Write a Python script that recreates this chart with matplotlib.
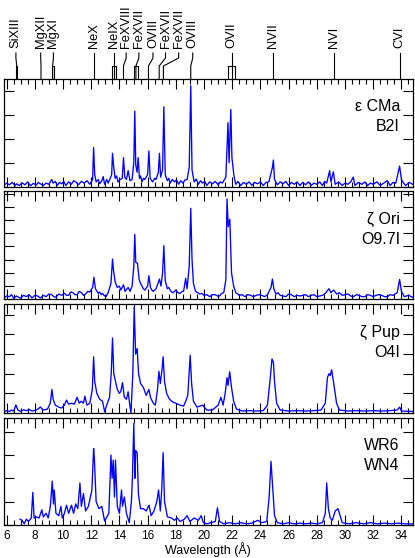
import matplotlib
matplotlib.use("Agg")
import matplotlib.pyplot as plt
from matplotlib.ticker import MultipleLocator

plt.rcParams['font.family'] = ['Liberation Sans', 'DejaVu Sans']

# spectra (wavelength in A, flux in arbitrary units)
wl_cma = [5.8, 6.0, 6.2, 6.4, 6.6, 6.7, 6.9, 7.1, 7.3, 7.5, 7.7, 7.9, 8.1, 8.25, 8.4, 8.6, 8.8,
          9.0, 9.2, 9.3, 9.45, 9.6, 9.75, 9.9, 10.05, 10.2, 10.4, 10.6, 10.75, 10.9, 11.1, 11.3,
          11.5, 11.7, 11.9, 12.1, 12.17, 12.25, 12.35, 12.5, 12.6, 12.75, 12.85, 12.95, 13.1,
          13.2, 13.35, 13.45, 13.51, 13.6, 13.7, 13.8, 13.9, 14.05, 14.2, 14.29, 14.38, 14.5,
          14.62, 14.75, 14.9, 15.02, 15.09, 15.16, 15.25, 15.33, 15.42, 15.5, 15.6, 15.7, 15.8,
          16.0, 16.09, 16.18, 16.35, 16.5, 16.6, 16.76, 16.84, 16.92, 17.06, 17.15, 17.25, 17.4,
          17.5, 17.6, 17.75, 17.9, 18.05, 18.2, 18.35, 18.5, 18.65, 18.8, 18.95, 19.06, 19.15,
          19.3, 19.45, 19.6, 19.75, 19.9, 20.05, 20.2, 20.4, 20.6, 20.8, 21.0, 21.15, 21.3, 21.55,
          21.7, 21.78, 21.9, 21.98, 22.13, 22.25, 22.4, 22.6, 22.8, 23.0, 23.2, 23.4, 23.6, 23.8,
          24.0, 24.2, 24.4, 24.6, 24.85, 24.92, 25.0, 25.2, 25.4, 25.6, 25.8, 26.0, 26.2, 26.4,
          26.6, 26.8, 27.0, 27.2, 27.4, 27.6, 27.8, 28.0, 28.2, 28.4, 28.55, 28.7, 28.91, 29.0,
          29.17, 29.3, 29.55, 29.8, 30.0, 30.2, 30.4, 30.59, 30.7, 30.95, 31.2, 31.4, 31.6, 31.8,
          32.0, 32.25, 32.5, 32.75, 33.0, 33.2, 33.4, 33.6, 33.87, 34.0, 34.15, 34.3, 34.55, 34.8]
fx_cma = [0.05, 0.15, 0.08, 0.18, 0.04, 0.12, 0.05, 0.16, 0.08, 0.2, 0.04, 0.14, 0.07, 0.18, 0.12,
          0.05, 0.15, 0.1, 0.3, 0.15, 0.22, 0.06, 0.18, 0.12, 0.22, 0.05, 0.2, 0.1, 0.25, 0.2,
          0.08, 0.22, 0.15, 0.25, 0.1, 0.3, 1.63, 0.5, 0.2, 0.3, 0.12, 0.25, 0.42, 0.1, 0.3,
          0.15, 0.35, 0.5, 1.39, 0.8, 0.35, 0.45, 0.2, 0.3, 0.35, 1.21, 0.4, 0.3, 0.67, 0.25,
          0.3, 1.0, 3.15, 0.9, 0.6, 1.21, 0.35, 0.45, 0.2, 0.35, 0.3, 0.5, 1.49, 0.35, 0.2,
          0.35, 0.3, 0.6, 1.39, 0.4, 0.7, 3.33, 0.5, 0.25, 0.35, 0.15, 0.3, 0.2, 0.28, 0.1,
          0.25, 0.15, 0.28, 0.3, 0.8, 4.21, 0.7, 0.2, 0.32, 0.1, 0.25, 0.15, 0.22, 0.05, 0.2,
          0.12, 0.22, 0.08, 0.2, 0.15, 0.4, 2.67, 1.0, 3.22, 1.2, 0.42, 0.1, 0.22, 0.05, 0.18,
          0.1, 0.2, 0.06, 0.18, 0.12, 0.2, 0.05, 0.18, 0.2, 0.8, 1.11, 0.3, 0.08, 0.2, 0.12,
          0.22, 0.05, 0.18, 0.1, 0.2, 0.05, 0.18, 0.08, 0.2, 0.05, 0.15, 0.1, 0.2, 0.05, 0.22,
          0.15, 0.67, 0.2, 0.62, 0.1, 0.2, 0.05, 0.15, 0.1, 0.2, 0.4, 0.05, 0.18, 0.1, 0.2, 0.05,
          0.15, 0.1, 0.2, 0.05, 0.15, 0.25, 0.05, 0.18, 0.15, 0.86, 0.3, 0.15, 0.05, 0.18, 0.1]

wl_ori = [5.8, 6.0, 6.2, 6.35, 6.5, 6.7, 6.85, 7.0, 7.2, 7.4, 7.6, 7.8, 8.0, 8.2, 8.4, 8.6, 8.8,
          9.0, 9.2, 9.35, 9.5, 9.7, 9.9, 10.1, 10.25, 10.4, 10.55, 10.7, 10.85, 11.0, 11.15,
          11.3, 11.45, 11.6, 11.75, 11.9, 12.1, 12.19, 12.3, 12.5, 12.6, 12.7, 12.8, 12.9, 13.05,
          13.2, 13.4, 13.51, 13.58, 13.7, 13.85, 14.0, 14.1, 14.29, 14.4, 14.62, 14.75, 14.9,
          15.02, 15.09, 15.16, 15.28, 15.4, 15.5, 15.6, 15.7, 15.8, 16.0, 16.09, 16.2, 16.3,
          16.4, 16.6, 16.84, 16.95, 17.06, 17.15, 17.25, 17.4, 17.5, 17.6, 17.7, 17.8, 18.0,
          18.15, 18.3, 18.45, 18.55, 18.7, 18.8, 18.95, 19.06, 19.15, 19.25, 19.4, 19.55, 19.7,
          19.85, 20.0, 20.2, 20.4, 20.6, 20.8, 20.95, 21.1, 21.25, 21.4, 21.55, 21.63, 21.72,
          21.83, 21.95, 22.1, 22.25, 22.4, 22.5, 22.7, 22.9, 23.1, 23.3, 23.5, 23.7, 23.9, 24.1,
          24.3, 24.5, 24.75, 24.85, 24.95, 25.1, 25.25, 25.4, 25.6, 25.8, 26.0, 26.2, 26.4, 26.6,
          26.8, 27.0, 27.2, 27.4, 27.6, 27.8, 28.0, 28.2, 28.4, 28.6, 28.86, 29.0, 29.2, 29.4,
          29.6, 29.8, 30.0, 30.2, 30.4, 30.6, 30.8, 31.0, 31.2, 31.4, 31.6, 31.8, 32.0, 32.2,
          32.4, 32.6, 32.8, 33.0, 33.2, 33.4, 33.7, 33.87, 34.0, 34.2, 34.5, 34.8]
fx_ori = [0.1, 0.25, 0.2, 0.35, 0.08, 0.25, 0.15, 0.1, 0.3, 0.2, 0.35, 0.1, 0.3, 0.25, 0.1, 0.3,
          0.2, 0.4, 0.35, 0.2, 0.15, 0.4, 0.3, 0.45, 0.3, 0.3, 0.55, 0.5, 0.35, 0.35, 0.6,
          0.5, 0.3, 0.4, 0.6, 0.55, 0.9, 1.67, 0.8, 0.45, 0.55, 0.35, 0.45, 0.3, 0.2,
          0.5, 1.2, 3.05, 2.2, 1.3, 0.9, 1.0, 0.7, 1.1, 0.6, 0.9, 0.6, 1.0,
          2.5, 4.92, 2.8, 2.73, 1.5, 1.2, 1.0, 0.8, 0.7, 1.0, 1.79, 0.9, 0.7,
          0.6, 0.8, 1.53, 1.0, 2.0, 4.06, 1.4, 0.8, 0.9, 0.7, 0.55, 0.5, 0.7,
          0.5, 0.45, 0.6, 0.6, 1.59, 0.8, 2.5, 6.89, 3.0, 1.2, 0.6, 0.5, 0.4,
          0.45, 0.3, 0.35, 0.2, 0.35, 0.35, 0.25, 0.25, 0.45, 0.5, 1.5, 7.6, 5.5,
          6.06, 2.0, 1.0, 0.5, 0.4, 0.3, 0.35, 0.2, 0.35, 0.3, 0.2, 0.3, 0.35, 0.3,
          0.2, 0.35, 0.9, 1.53, 0.8, 0.4, 0.5, 0.3, 0.25, 0.2, 0.4, 0.35, 0.2, 0.3,
          0.25, 0.3, 0.35, 0.2, 0.3, 0.35, 0.2, 0.25, 0.3, 0.45, 0.8, 0.5, 0.7, 0.4,
          0.5, 0.3, 0.35, 0.4, 0.25, 0.2, 0.35, 0.3, 0.2, 0.2, 0.35, 0.3, 0.2, 0.3,
          0.35, 0.3, 0.2, 0.2, 0.35, 0.3, 0.5, 1.5, 0.6, 0.2, 0.3, 0.15]

wl_pup = [5.8, 6.0, 6.2, 6.35, 6.5, 6.66, 6.8, 7.0, 7.2, 7.4, 7.6, 7.8, 8.1, 8.25, 8.4, 8.6, 8.9,
          9.1, 9.21, 9.3, 9.45, 9.7, 9.9, 10.1, 10.25, 10.4, 10.6, 10.8, 11.0, 11.15, 11.3, 11.45,
          11.55, 11.7, 11.9, 12.08, 12.17, 12.25, 12.4, 12.6, 12.8, 12.95, 13.1, 13.3, 13.42,
          13.51, 13.6, 13.7, 13.85, 14.0, 14.1, 14.22, 14.35, 14.5, 14.62, 14.72, 14.82, 14.95,
          15.05, 15.15, 15.26, 15.36, 15.5, 15.7, 15.9, 16.09, 16.2, 16.4, 16.55, 16.7, 16.8,
          16.9, 17.02, 17.1, 17.2, 17.35, 17.55, 17.8, 18.0, 18.3, 18.55, 18.7, 18.85, 19.02,
          19.12, 19.25, 19.5, 19.7, 19.9, 20.2, 20.6, 21.0, 21.2, 21.35, 21.5, 21.63, 21.7, 21.82,
          21.95, 22.1, 22.3, 22.7, 23.2, 23.7, 24.2, 24.5, 24.7, 24.82, 24.92, 25.0, 25.15, 25.4,
          26.0, 26.6, 27.2, 27.8, 28.3, 28.6, 28.75, 28.86, 28.95, 29.05, 29.2, 29.4, 29.6, 30.2,
          30.8, 31.4, 32.0, 32.6, 33.2, 33.7, 33.87, 34.0, 34.8]
fx_pup = [0.05, 0.12, 0.08, 0.15, 0.1, 0.41, 0.15, 0.08, 0.16, 0.12, 0.18, 0.1, 0.15, 0.22, 0.3,
          0.15, 0.2, 0.5, 1.2, 0.7, 0.4, 0.3, 0.25, 0.4, 0.66, 0.45, 0.5, 0.45, 0.8, 0.5, 0.6,
          0.5, 0.86, 0.4, 0.5, 1.2, 2.86, 1.6, 1.0, 0.7, 0.6, 0.07, 0.4, 0.8, 2.0,
          3.82, 2.0, 1.67, 1.2, 1.0, 1.1, 1.55, 0.8, 0.7, 1.08, 0.5, 0.0, 2.0,
          5.4, 3.0, 3.28, 2.0, 1.5, 1.3, 0.9, 1.2, 0.8, 0.5, 0.4, 1.2, 2.13,
          1.5, 2.2, 2.86, 1.6, 1.0, 0.7, 0.55, 0.5, 0.4, 0.35, 0.6, 0.9, 2.94,
          1.5, 0.6, 0.3, 0.35, 0.4, 0.15, 0.15, 0.4, 0.8, 0.4, 1.0, 1.8, 1.4, 2.1,
          1.3, 0.6, 0.2, 0.1, 0.12, 0.1, 0.12, 0.4, 1.8, 2.75, 2.6, 1.6, 0.5, 0.15,
          0.1, 0.12, 0.1, 0.12, 0.15, 0.5, 1.8, 2.0, 1.9, 2.2, 1.5, 0.5, 0.15, 0.1,
          0.12, 0.1, 0.12, 0.1, 0.12, 0.15, 0.3, 0.1, 0.08]

wl_wr6 = [6.95, 7.1, 7.25, 7.4, 7.55, 7.75, 7.86, 7.95, 8.1, 8.3, 8.5, 8.6, 8.8, 8.95, 9.1, 9.24,
          9.32, 9.38, 9.5, 9.7, 9.85, 9.95, 10.1, 10.25, 10.4, 10.6, 10.75, 10.9, 11.05, 11.2,
          11.3, 11.45, 11.6, 11.8, 12.05, 12.17, 12.22, 12.35, 12.55, 12.75, 12.95, 13.25, 13.4,
          13.48, 13.56, 13.65, 13.72, 13.85, 14.0, 14.15, 14.22, 14.35, 14.5, 14.7, 14.85, 14.92,
          15.02, 15.1, 15.15, 15.26, 15.35, 15.5, 15.7, 15.9, 16.1, 16.25, 16.45, 16.65, 16.78,
          16.9, 17.0, 17.1, 17.2, 17.4, 17.7, 17.9, 18.1, 18.3, 18.6, 18.8, 19.0, 19.3, 19.6,
          19.8, 19.95, 20.2, 20.5, 20.8, 20.95, 21.1, 21.4, 21.8, 22.2, 22.6, 23.0, 23.4, 23.8,
          24.1, 24.45, 24.62, 24.75, 24.85, 25.0, 25.2, 25.6, 26.0, 26.4, 26.8, 27.2, 27.6, 28.0,
          28.4, 28.6, 28.7, 28.82, 28.95, 29.1, 29.3, 29.5, 29.65, 29.8, 30.3, 30.8, 31.3, 31.8,
          32.3, 32.8, 33.3, 33.8, 34.3, 34.8]
fx_wr6 = [0.25, 0.2, 0.05, 0.25, 0.15, 0.3, 1.4, 0.3, 0.35, 0.3, 0.65, 0.35, 0.5, 0.3, 0.8, 1.88,
          0.9, 1.5, 0.5, 0.4, 0.8, 0.3, 0.5, 0.85, 0.5, 0.85, 0.5, 0.9, 0.7, 1.8,
          0.8, 1.35, 0.6, 0.8, 1.5, 3.28, 2.9, 1.0, 0.7, 0.8, 0.17, 0.5, 3.0,
          2.0, 2.78, 1.2, 2.78, 0.8, 0.5, 1.5, 0.8, 1.2, 0.5, 0.1, 1.0, 2.0,
          4.35, 2.0, 3.2, 3.1, 1.3, 0.7, 0.7, 0.6, 0.85, 0.4, 0.6, 1.0, 1.5,
          0.6, 1.5, 3.1, 1.0, 0.35, 0.3, 0.2, 0.3, 0.15, 0.25, 0.4, 0.15, 0.3, 0.2,
          0.4, 0.1, 0.05, 0.1, 0.15, 0.74, 0.15, 0.05, 0.1, 0.05, 0.1, 0.05, 0.08, 0.2,
          0.1, 0.15, 1.2, 2.73, 1.8, 0.4, 0.1, 0.05, 0.1, 0.05, 0.08, 0.05, 0.08, 0.05,
          0.1, 0.5, 1.8, 0.7, 0.3, 0.2, 0.6, 0.7, 0.4, 0.1, 0.05, 0.1, 0.05, 0.1,
          0.05, 0.08, 0.05, 0.08, 0.05, 0.05]

stars = ['\u03b5 CMa', '\u03b6 Ori', '\u03b6 Pup', 'WR6']
types = ['B2I', 'O9.7I', 'O4I', 'WN4']
ytops = [4.5, 8.2, 5.55, 4.6]

# line identifications: name, wavelength of the label, wavelength of the marker, box (or None)
ion_names = ['SiXIII', 'MgXII', 'MgXI', 'NeX', 'NeIX', 'FeXVIII', 'FeXVII', 'OVIII',
             'FeXVII', 'FeXVII', 'OVIII', 'OVII', 'NVII', 'NVI', 'CVI']
ion_label_wl = [6.66, 8.42, 9.32, 12.17, 13.63, 14.48, 15.38, 16.38, 17.27, 18.2, 19.2,
                21.95, 24.9, 29.2, 33.88]
ion_mark_wl = [6.72, 8.44, 9.26, 12.17, 13.63, 14.29, 15.17, 16.06, 16.82, 17.12, 19.06,
               21.95, 24.9, 29.2, 33.88]
ion_boxes = [(6.66, 6.75), None, (9.2, 9.33), None, (13.46, 13.77), None, (15.04, 15.31), None,
             None, None, None, (21.72, 22.2), None, None, None]

W, H = 415, 558
fig = plt.figure(figsize=(W / 100, H / 100), dpi=100)
x0, x1 = 3.5, 413.0
panels = [(78.7, 186.7), (191.0, 299.3), (304.0, 413.0), (417.7, 525.0)]
spectra = [(wl_cma, fx_cma), (wl_ori, fx_ori), (wl_pup, fx_pup), (wl_wr6, fx_wr6)]
xlim = (5.78, 34.82)

for i, (top, bot) in enumerate(panels):
    ax = fig.add_axes([x0 / W, 1 - bot / H, (x1 - x0) / W, (bot - top) / H])
    wl, fx = spectra[i]
    ax.plot(wl, fx, color='#0000ff', lw=0.95)
    ax.set_xlim(*xlim)
    ax.set_ylim(0, ytops[i])
    ax.xaxis.set_major_locator(MultipleLocator(2))
    ax.xaxis.set_minor_locator(MultipleLocator(0.5))
    ax.yaxis.set_major_locator(MultipleLocator(1))
    ax.tick_params(which='both', direction='in', top=True, right=True,
                   labelleft=False, labelbottom=(i == 3), labelsize=8.5, pad=3.5, width=0.8)
    ax.tick_params(which='major', length=7)
    ax.tick_params(which='minor', length=3.5)
    for s in ax.spines.values():
        s.set_linewidth(0.9)
    ax.text(0.968, 0.74, stars[i], transform=ax.transAxes, ha='right', va='center', fontsize=11.5)
    ax.text(0.968, 0.555, types[i], transform=ax.transAxes, ha='right', va='center', fontsize=11.5)
    if i == 3:
        ax.set_xlabel('Wavelength (\u00c5)', fontsize=9, labelpad=0)

# top strip with the line identifications (y in pixels from the top)
lab = fig.add_axes([x0 / W, 1 - panels[0][0] / H, (x1 - x0) / W, panels[0][0] / H])
lab.set_xlim(*xlim)
lab.set_ylim(panels[0][0], 0)
lab.axis('off')
for name, lx, mx, box in zip(ion_names, ion_label_wl, ion_mark_wl, ion_boxes):
    lab.text(lx, 48, name, rotation=90, ha='center', va='bottom', fontsize=9.3)
    lab.plot([lx, lx, mx, mx], [53, 58, 66, 78.7], color='black', lw=0.8)
    if box is not None:
        lab.plot([box[0], box[0], box[1], box[1]], [78.7, 66, 66, 78.7], color='black', lw=0.8)

fig.savefig('out.png', dpi=100)
